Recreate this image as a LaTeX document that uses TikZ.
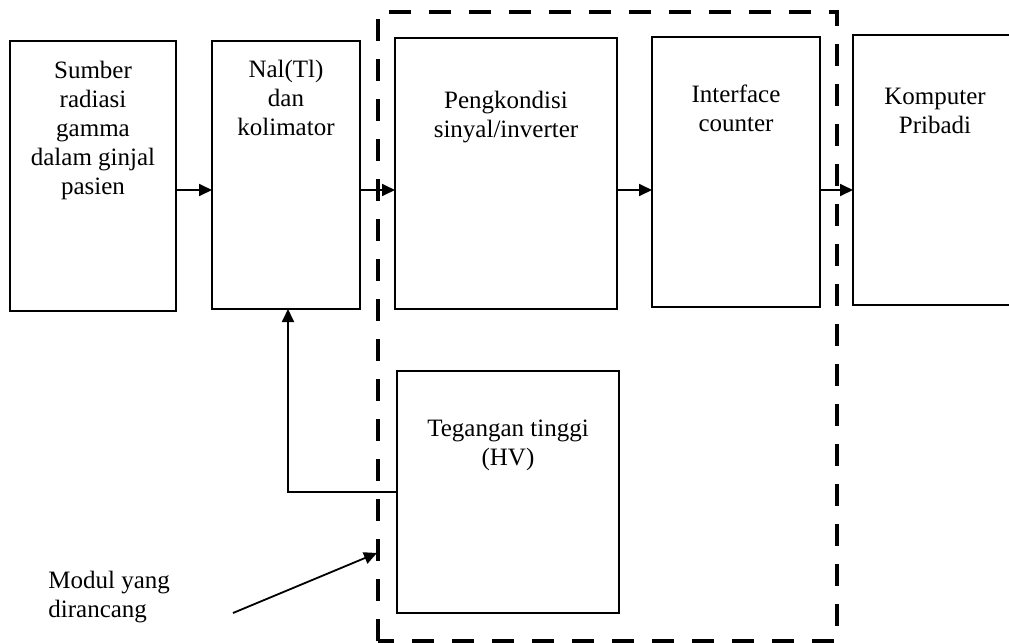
\documentclass[tikz,border=0pt]{standalone}
\usepackage{fontspec}
\setmainfont{Liberation Serif}
\usetikzlibrary{arrows.meta,positioning}

\begin{document}
\begin{tikzpicture}[
    x=0.5pt, y=-0.5pt,
    block/.style={rectangle, draw, line width=1.4pt, inner sep=0pt, outer sep=0pt},
    txt/.style={inner sep=0pt, align=center, font=\fontsize{12.5}{14.5}\selectfont},
    conn/.style={-{Triangle[length=6.5pt, width=6pt]}, line width=0.9pt},
    module/.style={line width=2pt, dash pattern=on 11pt off 9pt}
]
    \useasboundingbox (0,0) rectangle (1009,643);

    % blocks
    \node[block, minimum width=83pt, minimum height=135pt] (sumber) at (93,176) {};
    \node[block, minimum width=74pt, minimum height=134pt] (nai) at (286,175) {};
    \node[block, minimum width=111pt, minimum height=135.5pt] (kondisi) at (506,173.5) {};
    \node[block, minimum width=84pt, minimum height=135pt] (iface) at (736,172) {};
    \node[block, minimum width=82pt, minimum height=135pt] (pc) at (935,170) {};
    \node[block, minimum width=111pt, minimum height=121pt] (hv) at (508,492) {};

    % labels inside the blocks
    \node[txt, below=10pt of sumber.north] (sumbertxt) {Sumber\\radiasi\\gamma\\dalam ginjal\\pasien};
    \node[txt, below=9.5pt of nai.north] (naitxt) {Nal(Tl)\\dan\\kolimator};
    \node[txt, below=26.5pt of kondisi.north] (kondisitxt) {Pengkondisi\\sinyal/inverter};
    \node[txt, below=23.5pt of iface.north] (ifacetxt) {Interface\\counter};
    \node[txt, below=26.5pt of pc.north] (pctxt) {Komputer\\Pribadi};
    \node[txt, below=24.5pt of hv.north] (hvtxt) {Tegangan tinggi\\(HV)};

    % signal path
    \coordinate (row) at (0,190);
    \draw[conn] (sumber.east |- row) -- (nai.west |- row);
    \draw[conn] (nai.east |- row) -- (kondisi.west |- row);
    \draw[conn] (kondisi.east |- row) -- (iface.west |- row);
    \draw[conn] (iface.east |- row) -- (pc.west |- row);
    \draw[conn] (hv.west) -| ([xshift=1pt]nai.south);

    % designed module
    \coordinate (modnw) at (378,12);
    \coordinate (modse) at (837,641);
    \draw[module] (modnw |- modse) -- (modnw) -- (modnw -| modse) -- (modse) -- cycle;

    \node[txt, align=left, anchor=north west] (modul) at (48,571) {Modul yang\\dirancang};
    \coordinate (modtail) at (233,613);
    \coordinate (modtip) at (377,553);
    \draw[conn] (modtail) -- (modtip);
\end{tikzpicture}
\end{document}
